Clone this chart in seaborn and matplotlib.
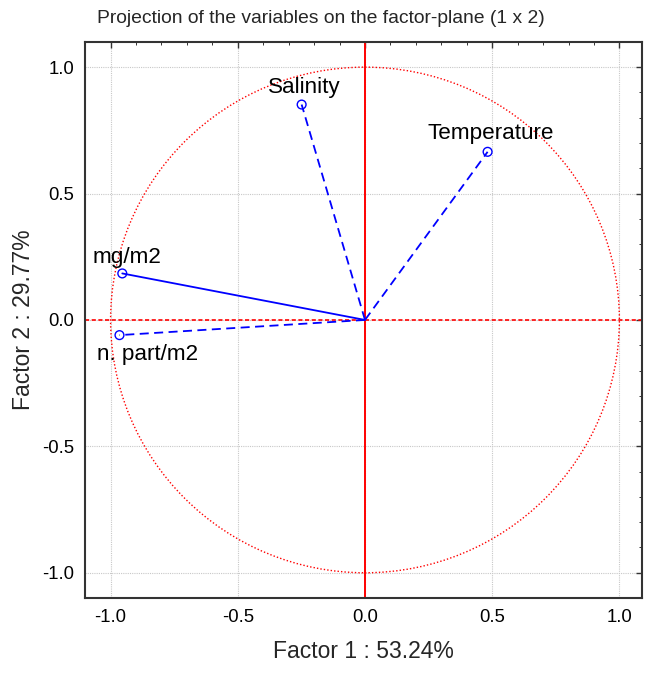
import matplotlib
matplotlib.use("Agg")
import matplotlib.pyplot as plt
from matplotlib.patches import Circle
from matplotlib.ticker import MultipleLocator
import seaborn as sns

# Factor loadings of each variable on the first two factors
variables = ["Salinity", "Temperature", "mg/m2", "n. part/m2"]
factor1 = [-0.249, 0.482, -0.954, -0.965]
factor2 = [0.852, 0.665, 0.184, -0.060]
line_styles = ["dashed", "dashed", "solid", "dashed"]

# label placement relative to each point (pixels)
label_offsets = [(3, 17), (3, 18), (5, 16), (28, -19)]

axis_ticks = [-1.0, -0.5, 0.0, 0.5, 1.0]
tick_labels = ["-1.0", "-0.5", "0.0", "0.5", "1.0"]

sns.set_style("white")
plt.rcParams["font.family"] = ["Liberation Sans", "DejaVu Sans"]

fig = plt.figure(figsize=(6.45, 6.75), dpi=100)
ax = fig.add_axes([0.132, 0.114, 0.863, 0.824])

# unit circle and the two factor axes
ax.add_patch(Circle((0, 0), 1.0, fill=False, edgecolor="red", linestyle=(0, (1, 1.5)),
                    linewidth=1.0, zorder=2))
ax.axvline(0, color="red", linewidth=1.4, zorder=2)
ax.axhline(0, color="red", linewidth=1.2, linestyle=(0, (2.5, 1.5)), zorder=2)

# vectors from the origin to each variable
for fx, fy, ls in zip(factor1, factor2, line_styles):
    dash = "-" if ls == "solid" else (0, (5, 3))
    sns.lineplot(x=[0, fx], y=[0, fy], sort=False, color="blue", linewidth=1.3,
                 linestyle=dash, ax=ax, zorder=3)

sns.scatterplot(x=factor1, y=factor2, marker="o", s=40, facecolor="none",
                edgecolor="blue", linewidth=1.0, ax=ax, zorder=4)

for name, fx, fy, (dx, dy) in zip(variables, factor1, factor2, label_offsets):
    ax.annotate(name, (fx, fy), xytext=(dx, dy), textcoords="offset pixels",
                ha="center", va="center", fontsize=16.2, color="black", zorder=5)

ax.set_xlim(-1.1, 1.088)
ax.set_ylim(-1.1, 1.1)
ax.set_xticks(axis_ticks)
ax.set_xticklabels(tick_labels)
ax.set_yticks(axis_ticks)
ax.set_yticklabels(tick_labels)
ax.xaxis.set_minor_locator(MultipleLocator(0.1))
ax.yaxis.set_minor_locator(MultipleLocator(0.1))
ax.tick_params(which="major", direction="in", length=4, width=1.0, labelsize=13.3,
               top=True, right=True, pad=8, colors="#333333", labelcolor="black")
ax.tick_params(which="minor", direction="in", length=2.5, width=0.7,
               top=True, right=True, colors="#333333")

ax.grid(True, which="major", color="#c8c8c8", linestyle=(0, (1, 1)), linewidth=0.8)
ax.set_axisbelow(True)

for side in ["left", "bottom", "top", "right"]:
    ax.spines[side].set_visible(True)
    ax.spines[side].set_color("#333333")
    ax.spines[side].set_linewidth(1.5)

ax.set_xlabel("Factor 1 : 53.24%", fontsize=16.5, labelpad=10)
ax.set_ylabel("Factor 2 : 29.77%", fontsize=16.5, labelpad=5)

fig.text(0.498, 0.973, "Projection of the variables on the factor-plane (1 x 2)",
         ha="center", va="center", fontsize=13.9)

fig.savefig("out.png", dpi=100)
